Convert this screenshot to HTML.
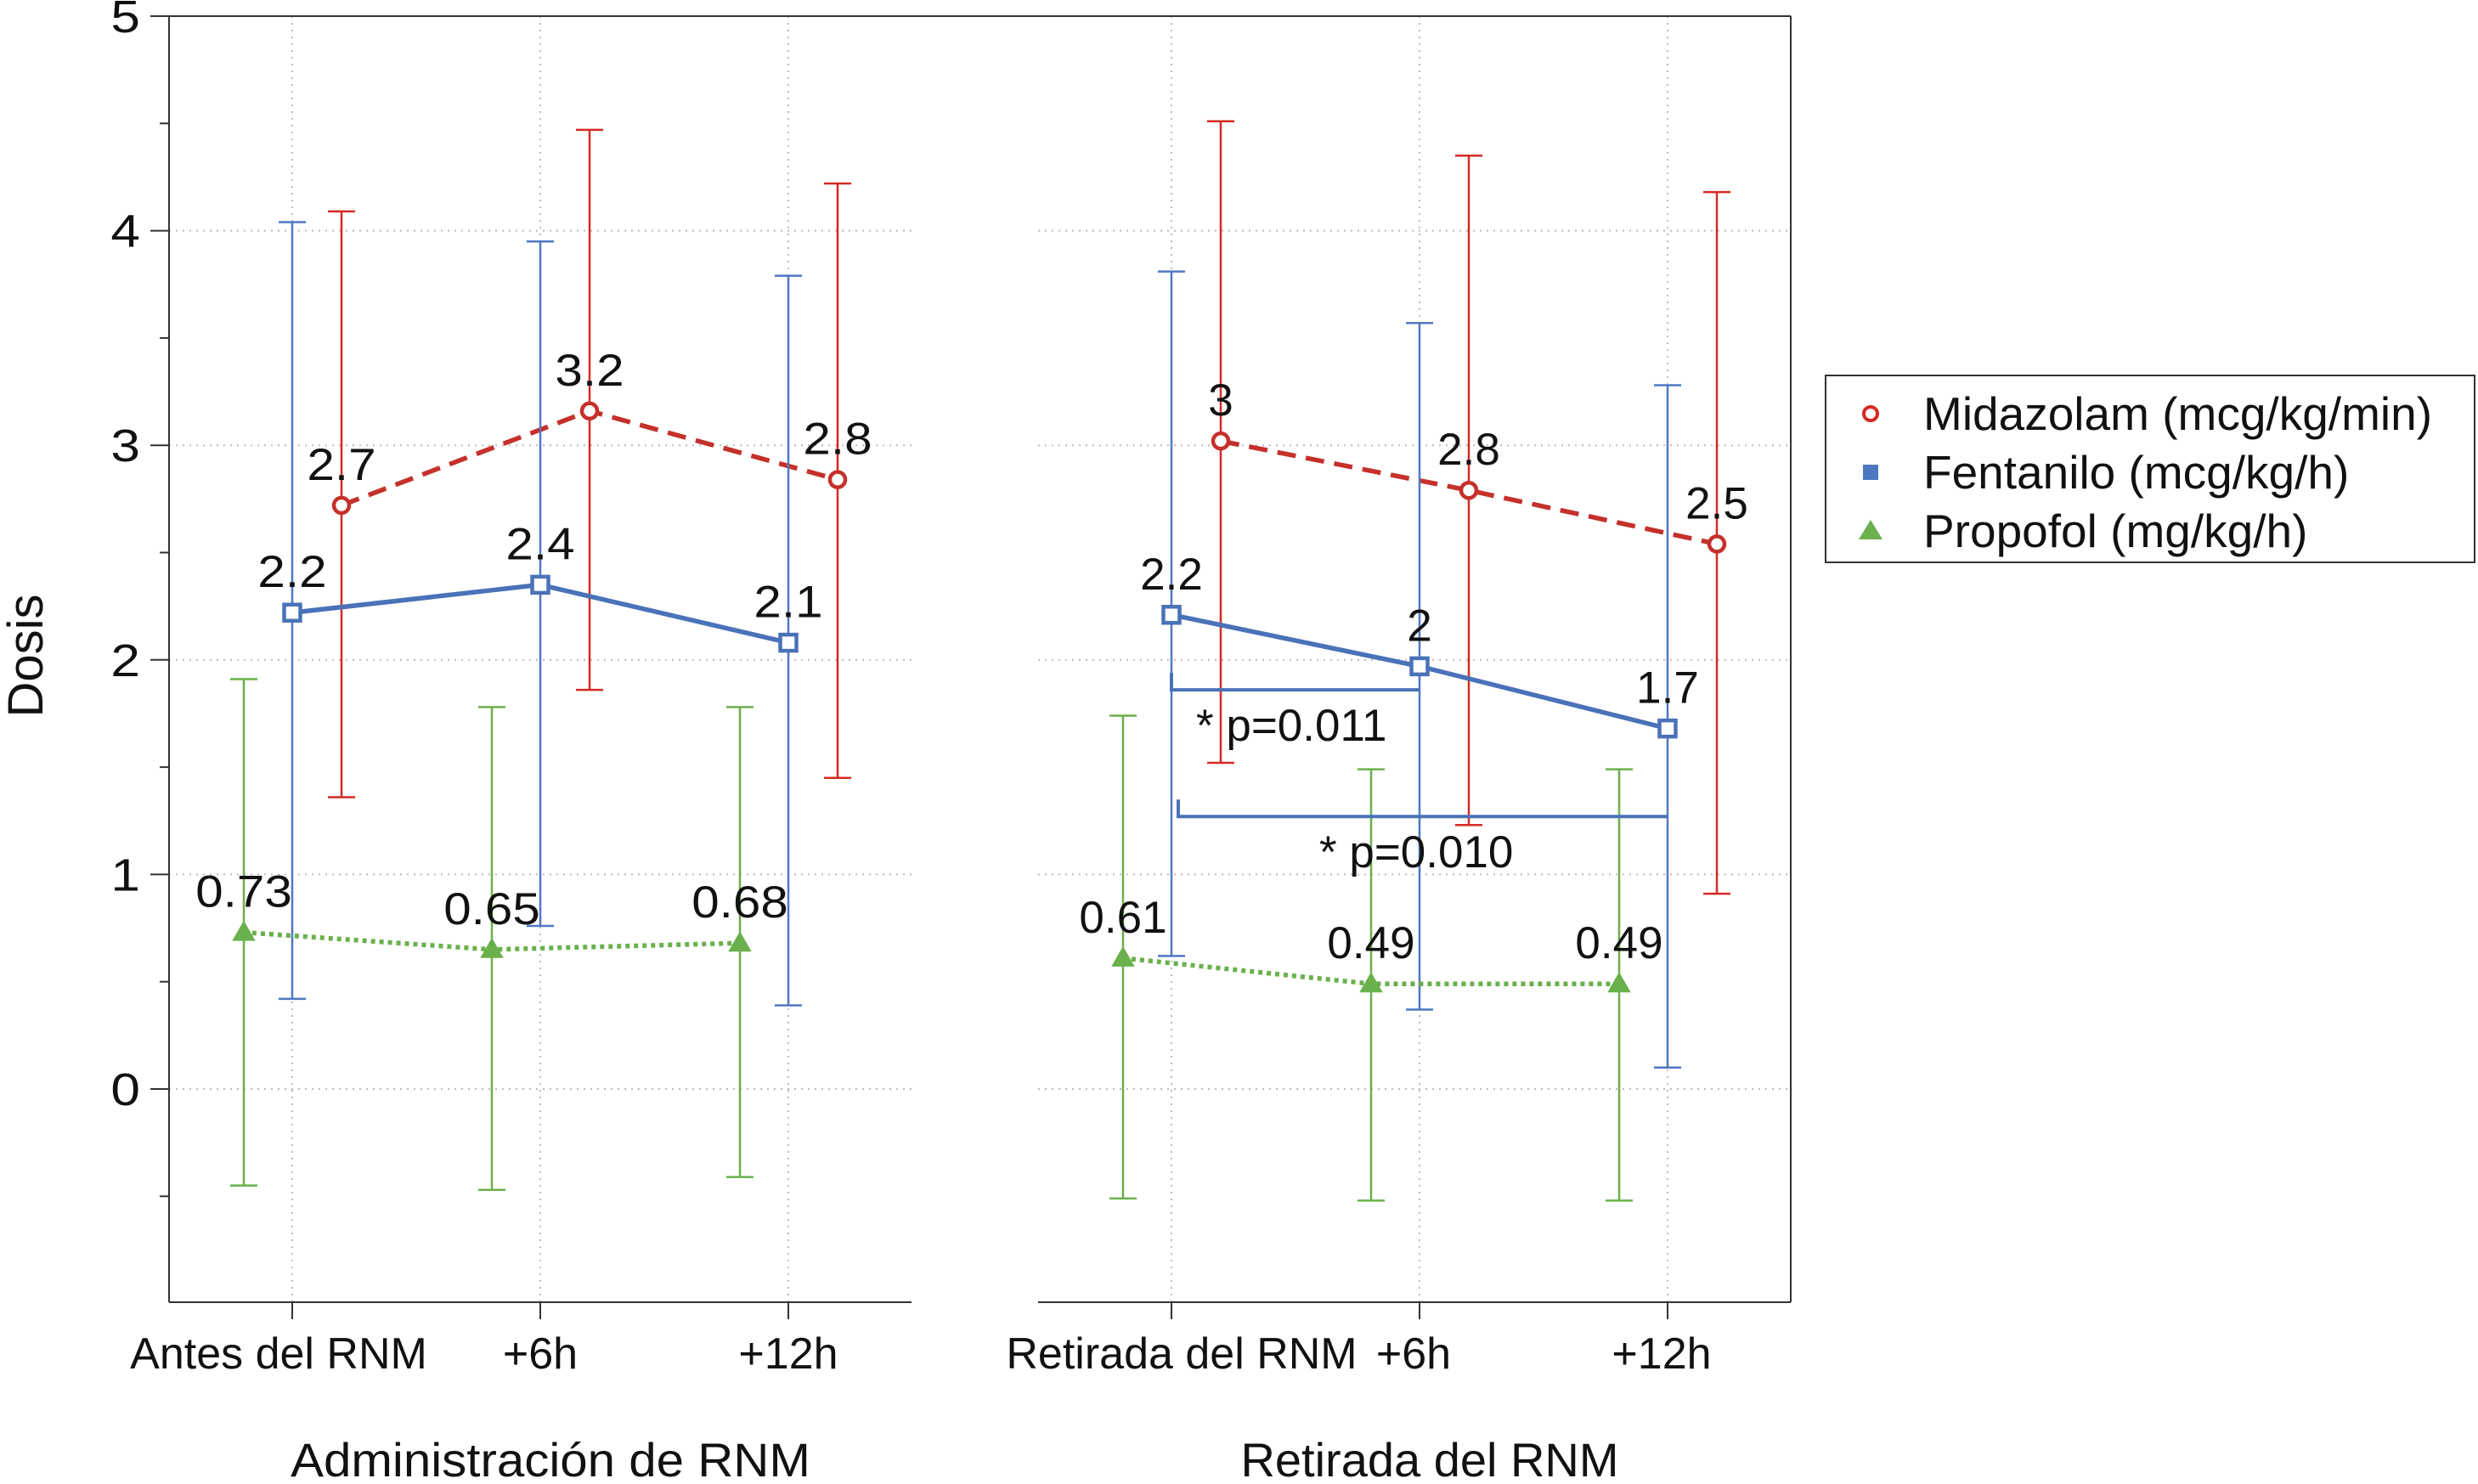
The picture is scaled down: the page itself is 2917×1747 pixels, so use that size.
<!DOCTYPE html>
<html><head><meta charset="utf-8"><style>
html,body{margin:0;padding:0;background:#fff;}
svg{display:block;font-family:"Liberation Sans",Arial,sans-serif;}
</style></head><body>
<svg id="chart" width="2917" height="1747" viewBox="0 0 2917 1747">
<g id="grid"></g>
<g id="axes"></g>
<g id="series"></g>
<g id="legend"></g>
</svg>
<script>
const panels = ["Administración de RNM", "Retirada del RNM"];
const catLabels = [["Antes del RNM", "+6h", "+12h"], ["Retirada del RNM", "+6h", "+12h"]];
const yTicks = [0, 1, 2, 3, 4, 5];
const midMean = [[2.72, 3.16, 2.84], [3.02, 2.79, 2.54]];
const midHi = [[4.09, 4.47, 4.22], [4.51, 4.35, 4.18]];
const midLo = [[1.36, 1.86, 1.45], [1.52, 1.23, 0.91]];
const midLbl = [["2.7", "3.2", "2.8"], ["3", "2.8", "2.5"]];
const fenMean = [[2.22, 2.35, 2.08], [2.21, 1.97, 1.68]];
const fenHi = [[4.04, 3.95, 3.79], [3.81, 3.57, 3.28]];
const fenLo = [[0.42, 0.76, 0.39], [0.62, 0.37, 0.10]];
const fenLbl = [["2.2", "2.4", "2.1"], ["2.2", "2", "1.7"]];
const proMean = [[0.73, 0.65, 0.68], [0.61, 0.49, 0.49]];
const proHi = [[1.91, 1.78, 1.78], [1.74, 1.49, 1.49]];
const proLo = [[-0.45, -0.47, -0.41], [-0.51, -0.52, -0.52]];
const proLbl = [["0.73", "0.65", "0.68"], ["0.61", "0.49", "0.49"]];
const brackets = [{from: 0, to: 1, y: 1.86, text: "* p=0.011"}, {from: 0, to: 2, y: 1.27, text: "* p=0.010"}];

const NS = "http://www.w3.org/2000/svg";
const TOP = 19, BOT = 1533;
const panelX = [[199, 1073], [1222, 2108]];
const catX0 = [344, 1379], catStep = 292;
function yS(v) { return 1282 - v * 252.6; }
function xS(p, i) { return catX0[p] + i * catStep; }
function mk(tag, attrs, parent, text) {
  const e = document.createElementNS(NS, tag);
  for (const k in attrs) e.setAttribute(k, attrs[k]);
  if (text !== undefined) e.textContent = text;
  parent.appendChild(e);
  return e;
}
function stretch(t, f) {
  const w = t.getComputedTextLength();
  t.setAttribute('textLength', (w * f).toFixed(1));
  t.setAttribute('lengthAdjust', 'spacingAndGlyphs');
}
const grid = document.getElementById('grid');
const axes = document.getElementById('axes');
const series = document.getElementById('series');
const legend = document.getElementById('legend');

let e;
e = mk('line', {x1: 199, y1: TOP, x2: 2108, y2: TOP, stroke: '#333', 'stroke-width': 2}, axes);
 
e = mk('line', {x1: 2108, y1: TOP, x2: 2108, y2: BOT, stroke: '#333', 'stroke-width': 2}, axes);
 
e = mk('line', {x1: 199, y1: TOP, x2: 199, y2: BOT, stroke: '#333', 'stroke-width': 2}, axes);
 

yTicks.forEach(v => {
  const y = yS(v);
  e = mk('line', {x1: 177, y1: y, x2: 199, y2: y, stroke: '#333', 'stroke-width': 2}, axes);
   
  e = mk('text', {x: 165, y: y + 19, 'text-anchor': 'end', 'font-size': 54, fill: '#111'}, axes, String(v));
   
  stretch(e, 1.15);
  if (v < 5) {
    [0, 1].forEach(p => {
      e = mk('line', {x1: panelX[p][0], y1: y, x2: panelX[p][1], y2: y, stroke: '#bbb', 'stroke-width': 2, 'stroke-dasharray': '2 6'}, grid);
       
    });
    e = mk('line', {x1: 188, y1: yS(v + 0.5), x2: 199, y2: yS(v + 0.5), stroke: '#333', 'stroke-width': 2}, axes);
     
  }
});
e = mk('line', {x1: 188, y1: yS(-0.5), x2: 199, y2: yS(-0.5), stroke: '#333', 'stroke-width': 2}, axes);
 

e = mk('text', {x: 0, y: 0, transform: 'translate(50,772) rotate(-90)', 'text-anchor': 'middle', 'font-size': 58, fill: '#111'}, axes, 'Dosis');
 

[0, 1].forEach(p => {
  e = mk('line', {x1: panelX[p][0], y1: BOT, x2: panelX[p][1], y2: BOT, stroke: '#333', 'stroke-width': 2}, axes);
   
  catLabels[p].forEach((lab, i) => {
    const x = xS(p, i);
    e = mk('line', {x1: x, y1: TOP, x2: x, y2: BOT, stroke: '#bbb', 'stroke-width': 2, 'stroke-dasharray': '2 6'}, grid);
     
    e = mk('line', {x1: x, y1: BOT, x2: x, y2: BOT + 20, stroke: '#333', 'stroke-width': 2}, axes);
     
    let tx = x;
    if (p === 1 && i === 0) tx = x + 12;
    if (p === 1 && i === 1) tx = x - 7;
    if (p === 1 && i === 2) tx = x - 7;
    if (p === 0 && i === 0) tx = x - 16;
    e = mk('text', {x: tx, y: BOT + 78, 'text-anchor': 'middle', 'font-size': 52, fill: '#111'}, axes, lab);
     
  });
  e = mk('text', {x: (p === 0 ? 648 : 1683), y: 1738, 'text-anchor': 'middle', 'font-size': 56, fill: '#111'}, axes, panels[p]);
   
  if (p === 0) stretch(e, 1.04);
});

const defs = [
  {name: 'midazolam', mean: midMean, hi: midHi, lo: midLo, lbl: midLbl, off: 58, color: '#d42a22', line: '#c5302a', dash: '22 12', marker: 'circle'},
  {name: 'fentanilo', mean: fenMean, hi: fenHi, lo: fenLo, lbl: fenLbl, off: 0, color: '#4f78c2', line: '#4a72b8', dash: '', marker: 'square'},
  {name: 'propofol', mean: proMean, hi: proHi, lo: proLo, lbl: proLbl, off: -57, color: '#6ab04c', line: '#6ab04c', dash: '5 5', marker: 'triangle'}
];
defs.forEach(s => {
  [0, 1].forEach(p => {
    const g = mk('g', {}, series);
     
    s.mean[p].forEach((m, i) => {
      const x = xS(p, i) + s.off;
      e = mk('line', {x1: x, y1: yS(s.hi[p][i]), x2: x, y2: yS(s.lo[p][i]), stroke: s.color, 'stroke-width': 2.5}, g);
       
      [s.hi[p][i], s.lo[p][i]].forEach(v => {
        e = mk('line', {x1: x - 16, y1: yS(v), x2: x + 16, y2: yS(v), stroke: s.color, 'stroke-width': 2.5}, g);
         
      });
    });
    const pts = s.mean[p].map((m, i) => (xS(p, i) + s.off) + ',' + yS(m)).join(' ');
    e = mk('polyline', {points: pts, fill: 'none', stroke: s.line, 'stroke-width': 5.5, 'stroke-dasharray': s.dash}, g);
     
    s.mean[p].forEach((m, i) => {
      const x = xS(p, i) + s.off, y = yS(m);
      if (s.marker === 'circle') e = mk('circle', {cx: x, cy: y, r: 9, fill: '#fff', stroke: s.line, 'stroke-width': 4.5}, g);
      else if (s.marker === 'square') e = mk('rect', {x: x - 9.5, y: y - 9.5, width: 19, height: 19, fill: '#fff', stroke: s.line, 'stroke-width': 4.5}, g);
      else e = mk('polygon', {points: `${x},${y - 12} ${x - 12},${y + 9} ${x + 12},${y + 9}`, fill: s.color, stroke: s.color, 'stroke-width': 2}, g);
       
      e = mk('text', {x: x, y: y - 30, 'text-anchor': 'middle', 'font-size': 53, fill: '#111'}, g, s.lbl[p][i]);
       
      if (p === 0) stretch(e, 1.1);
    });
  });
});

brackets.forEach((b, k) => {
  const x1 = xS(1, b.from) + (k === 1 ? 8 : 0), x2 = xS(1, b.to), y = yS(b.y);
  e = mk('polyline', {points: `${x1},${y - 20} ${x1},${y} ${x2},${y}`, fill: 'none', stroke: '#4a72b8', 'stroke-width': 4}, series);
   
  const tx = k === 0 ? 1408 : 1553;
  e = mk('text', {x: tx, y: y + 60, 'font-size': 53, fill: '#111'}, series, b.text);
   
});

e = mk('rect', {x: 2149, y: 442, width: 764, height: 220, fill: '#fff', stroke: '#333', 'stroke-width': 2}, legend);
 
const legNames = ["Midazolam (mcg/kg/min)", "Fentanilo (mcg/kg/h)", "Propofol (mg/kg/h)"];
const legY = [487, 556, 625];
legNames.forEach((n, i) => {
  const g = mk('g', {}, legend);
   
  const y = legY[i], x = 2202;
  if (i === 0) e = mk('circle', {cx: x, cy: y, r: 8, fill: '#fff', stroke: '#d42a22', 'stroke-width': 4}, g);
  else if (i === 1) e = mk('rect', {x: x - 9, y: y - 9, width: 18, height: 18, fill: '#4f78c2'}, g);
  else e = mk('polygon', {points: `${x},${y - 13} ${x - 14},${y + 10} ${x + 14},${y + 10}`, fill: '#6ab04c'}, g);
   
  e = mk('text', {x: 2264, y: y + 19, 'font-size': 55, fill: '#111'}, g, n);
   
});
</script>
</body></html>
